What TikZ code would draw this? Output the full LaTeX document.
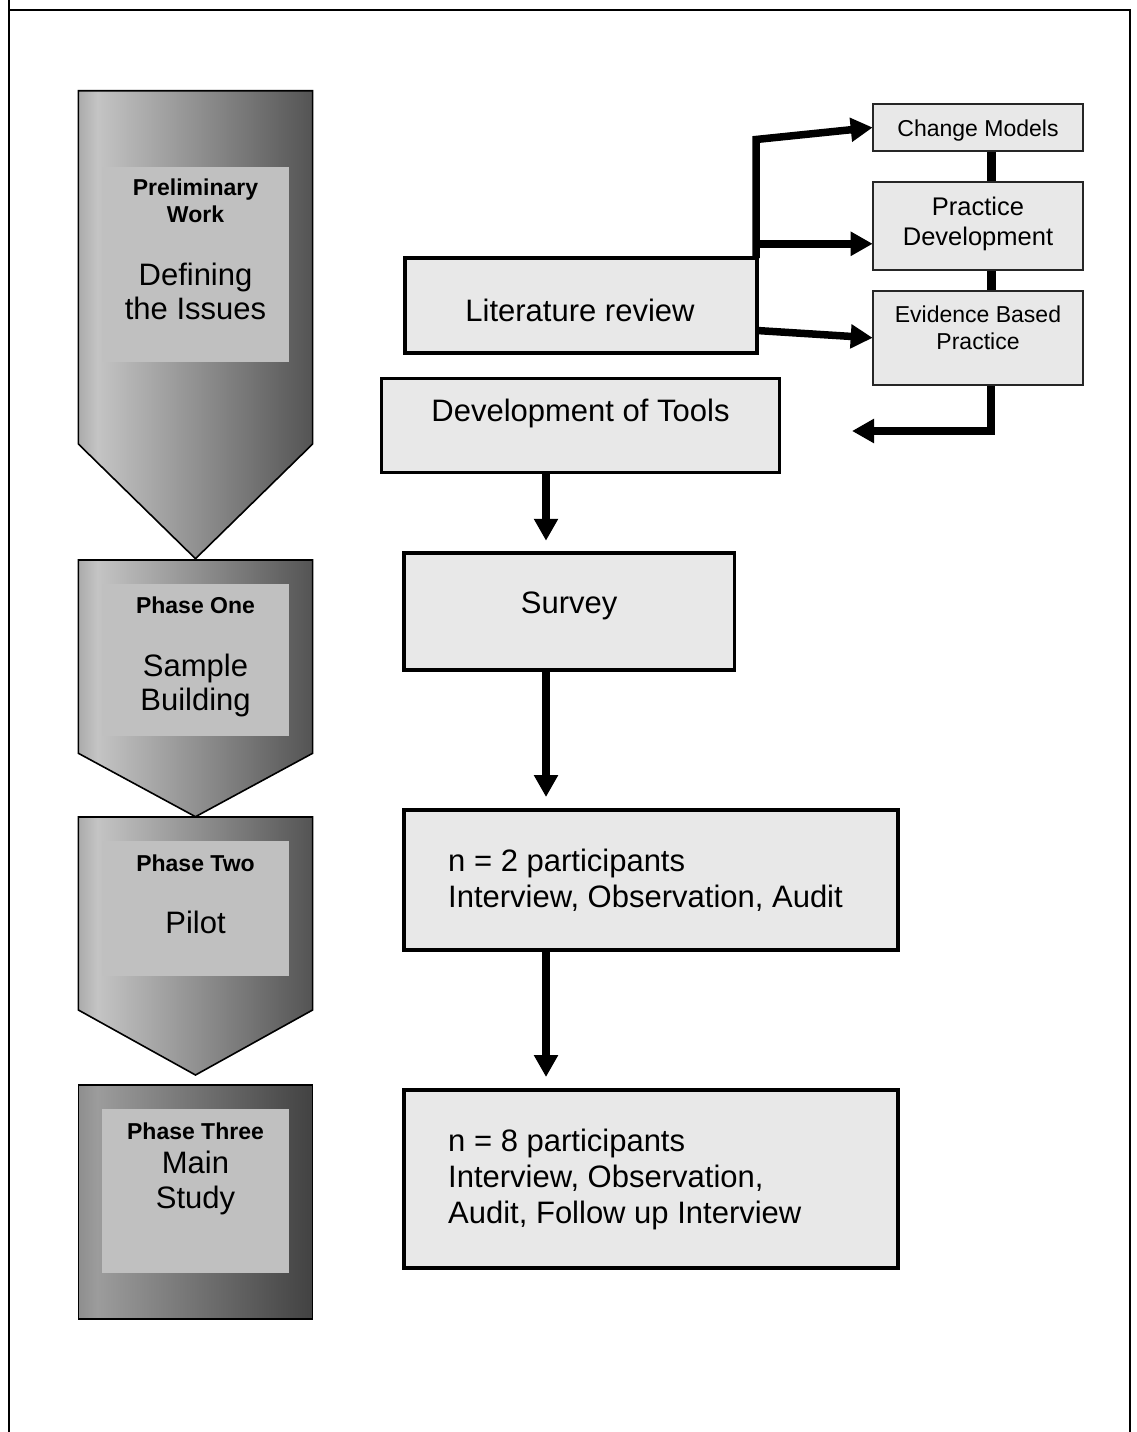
\documentclass[tikz,border=0pt]{standalone}
\usepackage{fontspec}
\setmainfont{Liberation Sans}
\usetikzlibrary{arrows.meta,calc}

\definecolor{boxfill}{HTML}{E8E8E8}
\definecolor{panel}{HTML}{C0C0C0}
\definecolor{shA0}{HTML}{ABABAB}
\definecolor{shA1}{HTML}{C4C4C4}
\definecolor{shA2}{HTML}{545454}
\definecolor{shB0}{HTML}{8E8E8E}
\definecolor{shB1}{HTML}{9C9C9C}
\definecolor{shB2}{HTML}{424242}

% grey ramps for the phase markers (light left edge, dark right edge)
\pgfdeclarehorizontalshading{phaseshade}{100bp}{color(0bp)=(shA0); color(25bp)=(shA0); color(29bp)=(shA1); color(75bp)=(shA2); color(100bp)=(shA2)}
\pgfdeclarehorizontalshading{mainshade}{100bp}{color(0bp)=(shB0); color(25bp)=(shB0); color(29bp)=(shB1); color(75bp)=(shB2); color(100bp)=(shB2)}

\pgfdeclarelayer{bg}
\pgfsetlayers{bg,main}

\begin{document}
\begin{tikzpicture}[x=1pt,y=-1pt,
  phase/.style={draw=black, line width=1.6pt, line join=miter},
  panelbox/.style={fill=panel, draw=none, inner sep=0pt, outer sep=0pt},
  mainbox/.style={draw=black, line width=3.5pt, fill=boxfill, inner sep=0pt, outer sep=0pt},
  subbox/.style={draw=black!85, line width=2pt, fill=boxfill, inner sep=0pt, outer sep=0pt},
  body/.style={font=\fontsize{31}{35}\selectfont, inner sep=0pt, anchor=base},
  bodyl/.style={body, anchor=base west},
  head/.style={font=\bfseries\fontsize{23}{27}\selectfont, inner sep=0pt, anchor=base},
  small/.style={font=\fontsize{23}{27}\selectfont, inner sep=0pt, anchor=base},
  mid/.style={font=\fontsize{25.5}{30}\selectfont, inner sep=0pt, anchor=base},
  conn/.style={line width=7.5pt, line join=miter},
  flow/.style={conn, -{Triangle[length=22pt,width=23pt]}},
]
\useasboundingbox (0,0) rectangle (1137,1432);

% page frame
\draw[line width=2pt] (8.5,0) -- (8.5,1432);
\draw[line width=2pt, line join=miter] (8.5,10) -- (1130,10) -- (1130,1432);

% ---------- phase column ----------
\path[phase, shading=phaseshade] (78.4,90.7) -- (312.6,90.7) -- (312.6,444) -- (195.5,558.7) -- (78.4,444) -- cycle;
\path[phase, shading=phaseshade] (78.4,560) -- (312.6,560) -- (312.6,753.3) -- (195.5,816.7) -- (78.4,753.3) -- cycle;
\path[phase, shading=phaseshade] (78.4,817) -- (312.6,817) -- (312.6,1010) -- (195.5,1075) -- (78.4,1010) -- cycle;
\path[phase, shading=mainshade] (78.4,1085) rectangle (312.6,1319);

\node[panelbox, minimum width=187.3pt, minimum height=195.2pt] (p0) at (195.4,264.1) {};
\node[panelbox, minimum width=187.3pt, minimum height=151.7pt] (p1) at (195.4,659.9) {};
\node[panelbox, minimum width=187.3pt, minimum height=134.7pt] (p2) at (195.4,908.4) {};
\node[panelbox, minimum width=187.3pt, minimum height=163.4pt] (p3) at (195.4,1191) {};

\node[head] (p0a) at (195.5,195.2) {Preliminary};
\node[head] (p0b) at (195.5,222.7) {Work};
\node[body] (p0c) at (195.5,285.1) {Defining};
\node[body] (p0d) at (195.5,319.6) {the Issues};

\node[head] (p1a) at (195.5,613.3) {Phase One};
\node[body] (p1b) at (195.5,676) {Sample};
\node[body] (p1c) at (195.5,710.7) {Building};

\node[head] (p2a) at (195.5,871.7) {Phase Two};
\node[body] (p2b) at (195.5,933.3) {Pilot};

\node[head] (p3a) at (195.5,1139.3) {Phase Three};
\node[body] (p3b) at (195.5,1173.3) {Main};
\node[body] (p3c) at (195.5,1208.3) {Study};

% ---------- process boxes ----------
\node[mainbox, minimum width=352pt, minimum height=95pt] (lit) at (581,305.5) {};
\node[body] (litt) at (580,321.7) {Literature review};

\node[mainbox, minimum width=397.6pt, minimum height=94pt] (dev) at (580.5,425.3) {};
\node[body] (devt) at (580.5,421.7) {Development of Tools};

\node[mainbox, minimum width=330.3pt, minimum height=117.3pt] (survey) at (569.2,611.4) {};
\node[body] (surveyt) at (569.2,613.3) {Survey};

\node[mainbox, minimum width=494pt, minimum height=140pt] (pilot) at (651,880) {};
\node[bodyl] (pilota) at (448,871.7) {n = 2 participants};
\node[bodyl] (pilotb) at (448,907.3) {Interview, Observation, Audit};

\node[mainbox, minimum width=494pt, minimum height=178pt] (study) at (651,1179) {};
\node[bodyl] (studya) at (448,1151.7) {n = 8 participants};
\node[bodyl] (studyb) at (448,1187.3) {Interview, Observation,};
\node[bodyl] (studyc) at (448,1223.3) {Audit, Follow up Interview};

% ---------- literature themes ----------
\node[subbox, minimum width=210.6pt, minimum height=47pt] (change) at (978,127.5) {};
\node[small] (changet) at (978,136.7) {Change Models};

\node[subbox, minimum width=210.6pt, minimum height=88.3pt] (practice) at (978,225.8) {};
\node[mid] (practicea) at (978,215) {Practice};
\node[mid] (practiceb) at (978,245) {Development};

\node[subbox, minimum width=210.6pt, minimum height=94.3pt] (evidence) at (978,337.8) {};
\node[small] (evidencea) at (978,322.3) {Evidence Based};
\node[small] (evidenceb) at (978,349.3) {Practice};

% ---------- connectors ----------
\coordinate (spine) at (546,0);
\coordinate (bj) at (756,139.5);
\coordinate (rail) at (991,0);
\coordinate (back) at (852,431);
\coordinate (pdin) at ($(practice.west)+(0,18)$);

\begin{pgfonlayer}{bg}
\draw[flow, shorten >=12pt] (dev.south -| spine) -- (survey.north -| spine);
\draw[flow, shorten >=13pt] (survey.south -| spine) -- (pilot.north -| spine);
\draw[flow, shorten >=13pt] (pilot.south -| spine) -- (study.north -| spine);

\draw[flow] (lit.north east -| bj) -- (bj) -- (change.west);
\draw[flow] (bj |- pdin) -- (pdin);
\draw[flow] ($(lit.east)+(0,25)$) -- (evidence.west);

\draw[conn, line width=9pt] (change.south -| rail) -- (practice.north -| rail);
\draw[conn, line width=9pt] (practice.south -| rail) -- (evidence.north -| rail);
\draw[flow] (evidence.south -| rail) |- (back);
\end{pgfonlayer}
\end{tikzpicture}
\end{document}
